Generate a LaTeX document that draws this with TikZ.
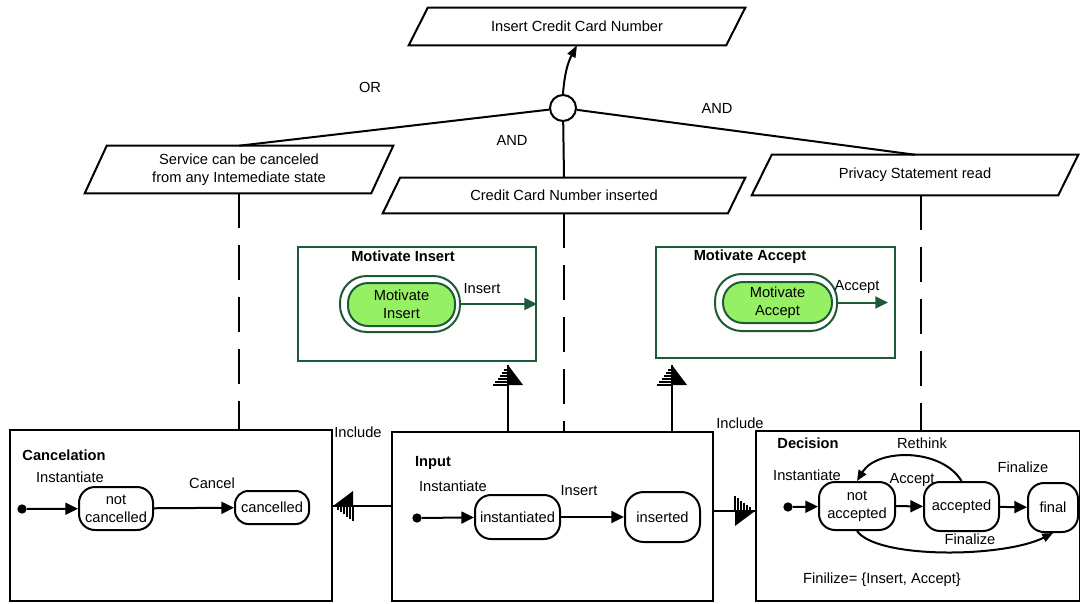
\documentclass[tikz,border=0pt]{standalone}
\usepackage{fontspec}
\setmainfont{Liberation Sans}
\usetikzlibrary{arrows.meta,calc}
\definecolor{dg}{RGB}{30,90,55}
\definecolor{lg}{RGB}{150,240,100}
\newcommand\drawpara[2]{\draw[ln] ([xshift=#2]#1.north west) -- (#1.north east) -- ([xshift=-#2]#1.south east) -- (#1.south west) -- cycle;}
\tikzset{
  inchead/.pic={
    \fill (0,0) -- (15,20) -- (0,20) -- cycle;
    \foreach \k in {5,8,11,14,17,20} \draw[line width=0.9pt] ({-15*\k/20},\k) -- (0,\k);
  }
}
\begin{document}
\begin{tikzpicture}[x=0.75pt,y=-0.75pt,
  every node/.style={font=\fontsize{11pt}{13.5pt}\selectfont, inner sep=0pt, align=center},
  ln/.style={line width=1.5pt},
  dsh/.style={line width=1.5pt, dash pattern=on 26pt off 13pt},
  box/.style={draw, line width=1.5pt},
  gbox/.style={draw=dg, line width=1.5pt},
  st/.style={draw, line width=1.5pt, rounded corners=12pt},
  dot/.style={circle, fill, minimum size=7pt},
  bold/.style={font=\fontsize{11pt}{13.5pt}\selectfont\bfseries},
  tip/.style={-{Triangle[length=9.5pt,width=9pt]}},
  smalltip/.style={-{Triangle[length=8pt,width=6.5pt]}}
]
\useasboundingbox (0,0) rectangle (1080,603);

% main boxes
\node[box, minimum width=241.5pt, minimum height=128.25pt] (canc) at (171,515.5) {};
\node[box, minimum width=240.75pt, minimum height=126.75pt] (inp) at (552.5,516.5) {};
\node[box, minimum width=243pt, minimum height=127.5pt] (dec) at (918,516) {};
\node[gbox, minimum width=178.5pt, minimum height=85.5pt] (mi) at (417,304) {};
\node[gbox, minimum width=179.25pt, minimum height=83.25pt] (ma) at (775.5,302.5) {};

% goals (parallelograms)
\node[minimum width=252pt, minimum height=27.75pt] (top) at (577,26.5) {Insert Credit Card Number};
\node[minimum width=231pt, minimum height=35.25pt] (svc) at (239,169.5) {Service can be canceled\\from any Intemediate state};
\node[minimum width=271.5pt, minimum height=26.25pt] (cc) at (564,195.5) {Credit Card Number inserted};
\node[minimum width=244.5pt, minimum height=30pt] (priv) at (915,175) {Privacy Statement read};
\drawpara{top}{14.25pt}
\drawpara{svc}{16.5pt}
\drawpara{cc}{13pt}
\drawpara{priv}{15pt}

% gate
\node[draw, circle, fill=white, line width=1.5pt, minimum size=19.5pt] (gate) at (563,108) {};
\draw[ln] (gate) -- (svc.north);
\draw[ln] (gate) -- (cc.north);
\draw[ln] (gate) -- (priv.north);
\draw[ln, -{Triangle[length=9pt,width=6.5pt]}] (gate.north) to[bend left=12] (top.south);
\node (lor) at (370,87) {OR};
\node (land1) at (512,140) {AND};
\node (land2) at (717,108) {AND};

% dashed links
\draw[dsh] (svc.south) -- (svc.south |- canc.north);
\draw[dsh] (cc.south) -- (cc.south |- inp.north);
\draw[dsh] ($(priv.south)+(6,0)$) coordinate (pd) -- (pd |- dec.north);

% include arrows
\coordinate (u1) at (508,365);
\draw[ln] (u1 |- inp.north) -- (u1);
\pic at (u1) {inchead};
\coordinate (u2) at (672,365);
\draw[ln] (u2 |- inp.north) -- (u2);
\pic at (u2) {inchead};
\coordinate (lt) at (333,506);
\draw[ln] (lt -| inp.west) -- (lt);
\pic[rotate=90] at (lt) {inchead};
\coordinate (rt) at (755,511);
\draw[ln] (rt -| inp.east) -- (rt);
\pic[rotate=-90] at (rt) {inchead};
\node (inc1) at (358,432) {Include};
\node (inc2) at (740,423) {Include};

% Motivate Insert
\node[bold] (mit) at (403,256) {Motivate Insert};
\node[draw=dg, line width=1.5pt, rounded corners=20pt, minimum width=90pt, minimum height=42pt] (mis) at (400,304) {};
\node[draw=dg, line width=1.5pt, fill=lg, rounded corners=15pt, minimum width=80.25pt, minimum height=32.25pt] (misi) at (401.5,304.5) {Motivate\\Insert};
\draw[ln, draw=dg, tip] (mis.east) -- (mi.east);
\node (mil) at (482,289) {Insert};

% Motivate Accept
\node[bold] (mat) at (750,257) {Motivate Accept};
\node[draw=dg, line width=1.5pt, rounded corners=20pt, minimum width=91.5pt, minimum height=42.75pt] (mas) at (776,302.5) {};
\node[draw=dg, line width=1.5pt, fill=lg, rounded corners=15pt, minimum width=81.75pt, minimum height=30.75pt] (masi) at (777.5,302.5) {Motivate\\Accept};
\coordinate (mae) at (888,302.5);
\draw[ln, draw=dg, tip] (mas.east) -- (mae);
\node (mal) at (857,287) {Accept};

% Cancelation
\node[bold] (ct) at (64,455) {Cancelation};
\node[dot] (c0) at (22,509) {};
\node[st, minimum width=55.5pt, minimum height=32.25pt] (c1) at (116,508.5) {not\\cancelled};
\node[st, rounded corners=10pt, minimum width=55.5pt, minimum height=24.75pt] (c2) at (272,507.5) {cancelled};
\draw[ln, tip] (c0) -- (c1);
\draw[ln, tip] (c1) -- (c2);
\node (cl1) at (70,477) {Instantiate};
\node (cl2) at (212,483) {Cancel};

% Input
\node[bold] (it) at (433,463) {Input};
\node[dot] (i0) at (417,518) {};
\node[st, minimum width=63.75pt, minimum height=33pt] (i1) at (517.5,517) {instantiated};
\node[st, rounded corners=14pt, minimum width=56.25pt, minimum height=37.5pt] (i2) at (662.5,517) {inserted};
\draw[ln, tip] (i0) -- (i1);
\draw[ln, tip] (i1) -- (i2);
\node (il1) at (453,486) {Instantiate};
\node (il2) at (579,491) {Insert};

% Decision
\node[bold] (dt) at (808,443) {Decision};
\node[dot] (d0) at (788,507) {};
\node[st, minimum width=57pt, minimum height=36pt] (d1) at (857,506) {not\\accepted};
\node[st, minimum width=56.25pt, minimum height=36.75pt] (d2) at (961.5,506.5) {accepted};
\node[st, minimum width=37.5pt, minimum height=36.75pt] (d3) at (1053,507.5) {final};
\draw[ln, tip] (d0) -- (d1);
\draw[ln, tip] (d1) -- (d2);
\draw[ln, tip] (d2) -- (d3);
\draw[ln, smalltip] (d2.north) .. controls +(-20,-33) and +(20,-33) .. (d1.north);
\draw[ln, smalltip] (d1.south) .. controls +(20,28) and +(-50,25) .. (d3.south);
\node (dl1) at (807,475) {Instantiate};
\node (dl2) at (912,480) {Accept};
\node (dl3) at (1023,467) {Finalize};
\node (dl4) at (922,443) {Rethink};
\node (dl5) at (970,539) {Finalize};
\node (dl6) at (882,580) {Finilize= \{Insert, Accept\}};
\end{tikzpicture}
\end{document}
